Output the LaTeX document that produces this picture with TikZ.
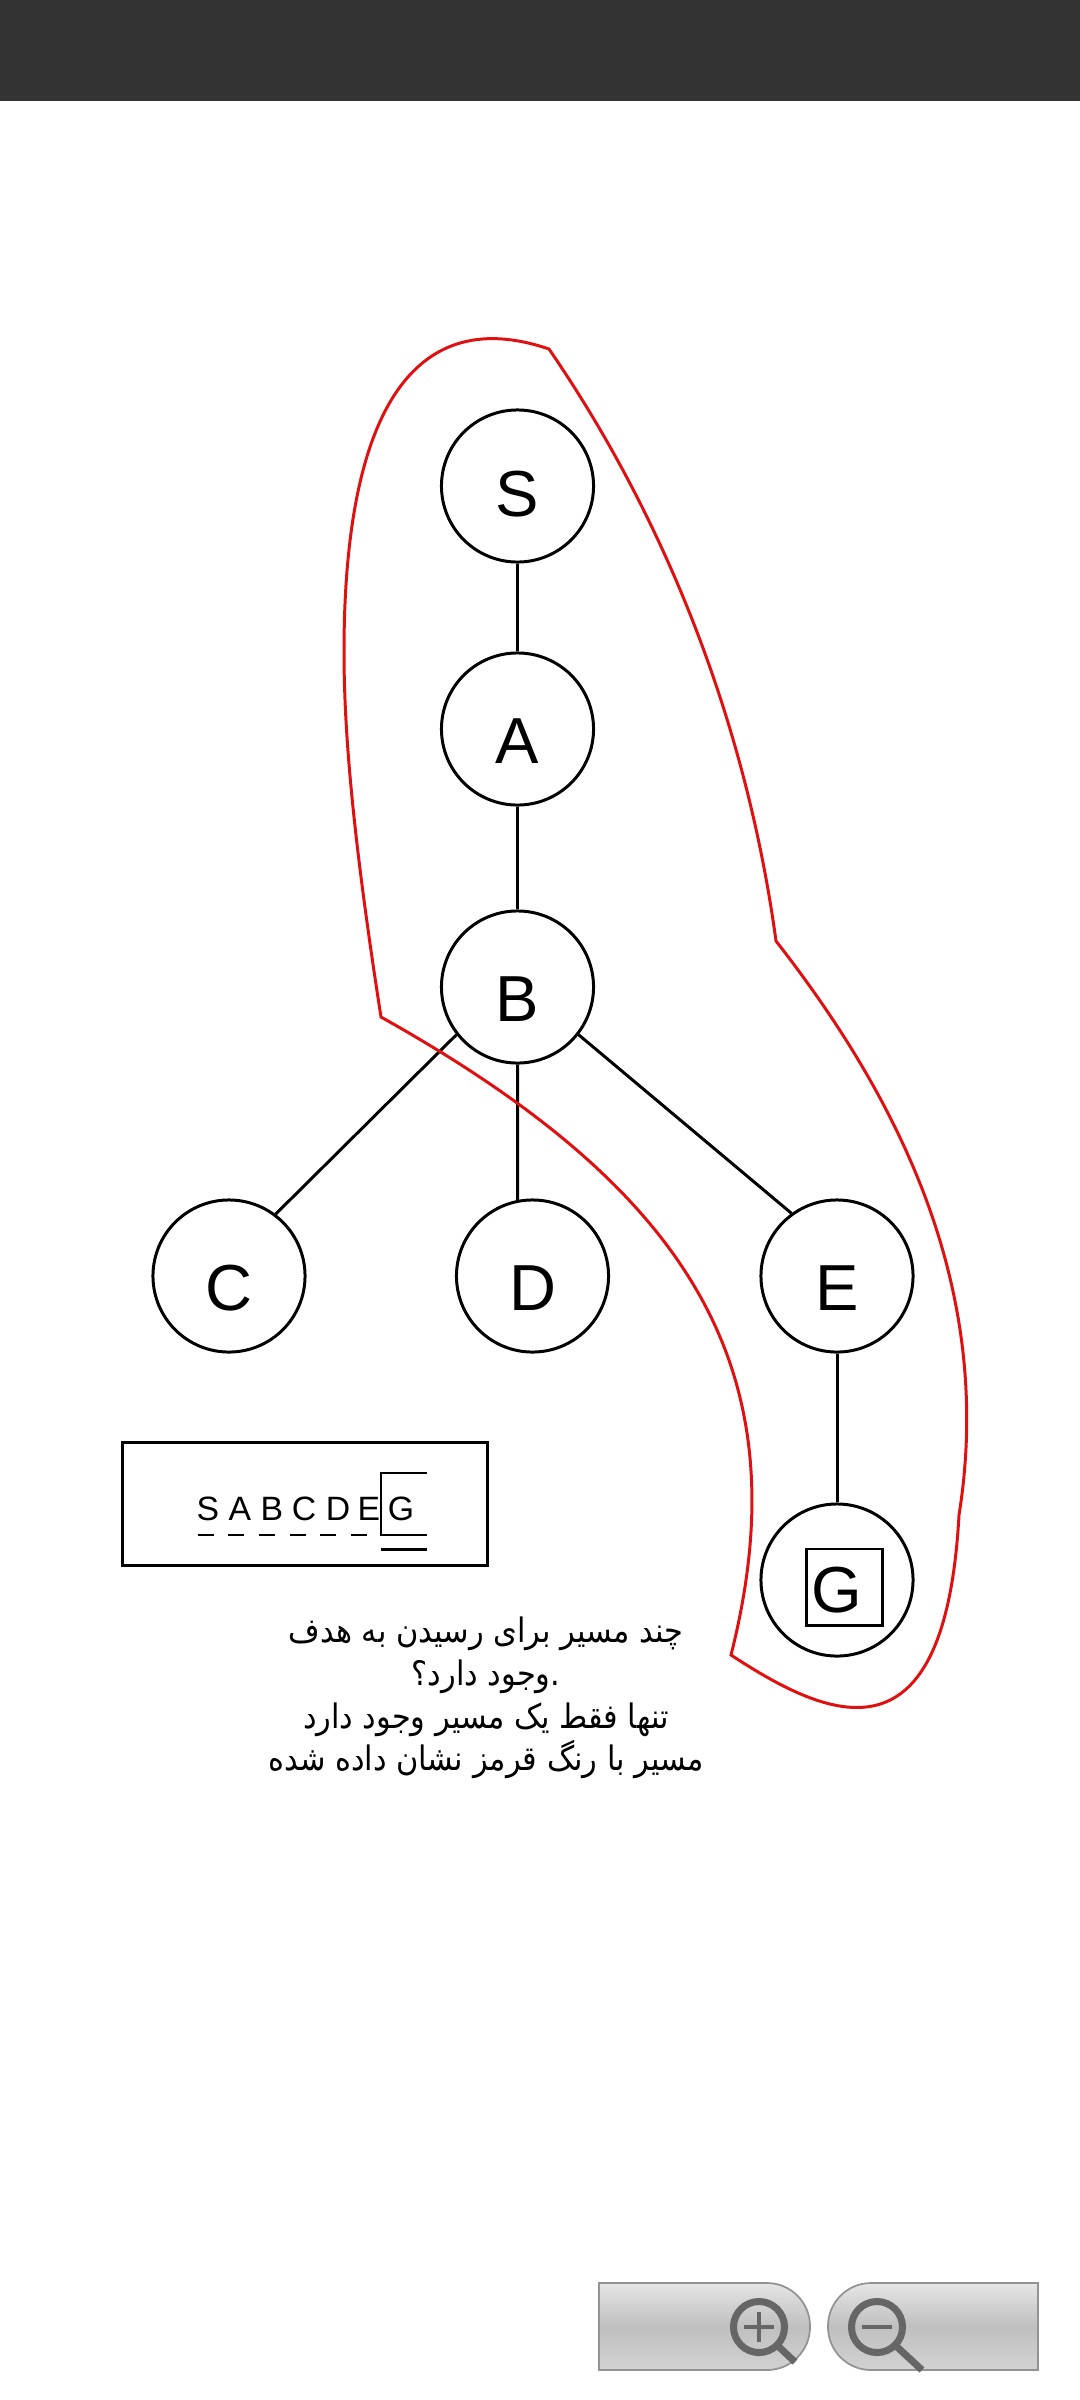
\documentclass[tikz,border=0pt]{standalone}
\usepackage{fontspec}
\setmainfont{Liberation Sans}
\newfontfamily\arabicfont[Script=Arabic,FakeStretch=0.9]{DejaVu Sans}
\TeXXeTstate=1
\definecolor{barcolor}{HTML}{333333}
\definecolor{pathred}{HTML}{E01010}
\definecolor{lenscolor}{HTML}{666666}
\begin{document}
\begin{tikzpicture}[x=0.01cm,y=-0.01cm,line width=0.85pt,
        vertex/.style={draw,circle,minimum size=1.52cm,inner sep=0pt,text height=0.68cm,text depth=0pt,font=\fontsize{18.5}{19}\selectfont},
        goalbox/.style={draw,minimum size=0.76cm,inner sep=0pt},
        frontier/.style={inner sep=0pt,font=\fontsize{9.6}{10}\selectfont},
        zoombutton/.style={draw=gray!85,line width=0.5pt,top color=gray!20,bottom color=gray!35,middle color=gray!50},
        lens/.style={draw=lenscolor,line width=2pt}]
    \useasboundingbox (0,0) rectangle (1080,2400);
    \fill[barcolor] (0,0) rectangle (1080,101);

    \node[vertex,text height=0.6cm] (S) at (517.5,486) {S};
    \node[vertex] (A) at (517.5,729) {A};
    \node[vertex] (B) at (517.5,987) {B};
    \node[vertex] (C) at (229,1276) {C};
    \node[vertex] (D) at (532.5,1276) {D};
    \node[vertex] (E) at (837,1276) {E};
    \node[vertex,text height=0.65cm] (G) at (837,1580) {G};
    \node[goalbox] (Gbox) at (844.5,1587) {};

    \draw (S) -- (A);
    \draw (A) -- (B);
    \draw (B.218) -- (C.53);
    \draw (B.south) -- (D.101);
    \draw (B.322) -- (E.126);
    \draw (E) -- (G);

    \draw[pathred] (549,349) .. controls (680,540) and (750,750) .. (776,941)
        .. controls (900,1100) and (995,1290) .. (959,1515)
        .. controls (945,1770) and (830,1720) .. (731,1655)
        .. controls (803,1370) and (690,1190) .. (381,1017)
        .. controls (355,850) and (344,740) .. (344,652)
        .. controls (344,400) and (420,305) .. (549,349) -- cycle;

    \node[draw,minimum width=3.65cm,minimum height=1.22cm,inner sep=0pt] (listbox) at (305,1504) {};
    \foreach \name/\xpos in {S/208,A/240,B/272,C/304,D/338,E/369,G/401}
        \node[frontier] (l\name) at (\xpos,1509) {\name};
    \foreach \xpos in {198,228,259,290,320,351}
        \draw[line width=0.4pt] (\xpos,1535) -- +(16,0);
    \draw[line width=0.4pt] (427,1473) -- (381,1473) -- (381,1535) -- (427,1535);
    \draw (381,1549) -- (427,1549);

    \node[align=center,inner sep=0pt,font=\arabicfont\fontsize{9.6}{12.1}\selectfont] (question) at (486,1698) {%
        \beginR چند مسیر برای رسیدن به هدف\endR\\
        \beginR .وجود دارد؟\endR\\
        \beginR تنها فقط یک مسیر وجود دارد\endR\\
        \beginR مسیر با رنگ قرمز نشان داده شده\endR};

    \path[zoombutton] (599,2283) {[rounded corners=0.43cm] -- (810,2283) -- (810,2370)} -- (599,2370) -- cycle;
    \path[zoombutton] (1038,2283) {[rounded corners=0.43cm] -- (828,2283) -- (828,2370)} -- (1038,2370) -- cycle;
    \draw[lens] (759,2327) circle (0.255cm);
    \draw[lens] (777,2345) -- (795,2362);
    \draw[lens,line width=1.4pt] (744,2327) -- (774,2327);
    \draw[lens,line width=1.4pt] (759,2312) -- (759,2342);
    \draw[lens] (877,2327) circle (0.255cm);
    \draw[lens] (895,2345) -- (922,2370);
    \draw[lens,line width=1.4pt] (862,2327) -- (892,2327);
\end{tikzpicture}
\end{document}
